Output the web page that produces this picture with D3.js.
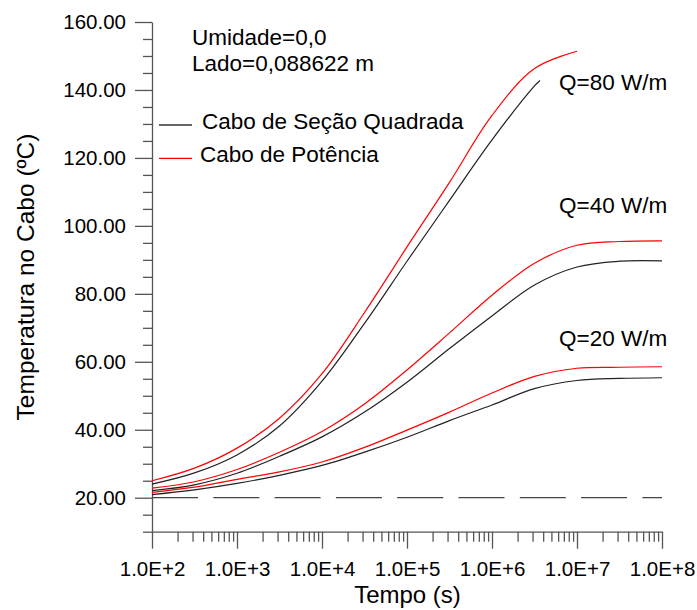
<!DOCTYPE html>
<html>
<head>
<meta charset="utf-8">
<script src="https://cdn.jsdelivr.net/npm/d3@7"></script>
<style>
  html, body { margin: 0; padding: 0; background: #fff; }
  svg { display: block; font-family: "Liberation Sans", Arial, Helvetica, sans-serif; }
</style>
</head>
<body>
<svg id="chart" width="697" height="610"></svg>
<script>
// Time instants (s), half-decade steps from 1E+2 to 1E+8
const tempo = [1e2, 316.2, 1e3, 3162, 1e4, 31623, 1e5, 316228, 1e6, 3162278, 1e7, 31622777, 1e8];
const tempoQ80Quadrada = [1e2, 316.2, 1e3, 3162, 1e4, 31623, 1e5, 316228, 1e6, 3162278, 3670000];

// Cable temperature (ºC)
const q80Potencia  = [25.0, 28.7, 34.6, 43.4, 56.5, 74.5, 93.8, 112.8, 132.5, 146.3, 151.4];
const q80Quadrada  = [24.0, 27.3, 32.6, 41.1, 54.3, 71.3, 89.6, 107.5, 125.3, 141.2, 142.8];
const q40Potencia  = [22.8, 24.7, 28.3, 33.4, 39.5, 47.6, 57.6, 68.5, 79.6, 89.0, 94.3, 95.4, 95.6];
const q40Quadrada  = [22.1, 23.8, 27.2, 32.2, 37.9, 45.2, 54.0, 63.9, 73.5, 82.6, 87.9, 89.6, 89.7];
const q20Potencia  = [21.6, 23.1, 25.4, 27.6, 30.5, 34.8, 39.9, 45.2, 50.8, 55.7, 58.1, 58.4, 58.55];
const q20Quadrada  = [20.9, 22.3, 24.2, 26.6, 29.5, 33.4, 37.8, 42.7, 47.3, 52.1, 54.5, 55.1, 55.3];

// Ambient reference temperature
const tempAmbiente = 20;

// Axis ticks
const xMajorTicks = [1e2, 1e3, 1e4, 1e5, 1e6, 1e7, 1e8];
const yMajorTicks = [20, 40, 60, 80, 100, 120, 140, 160];

// Labels
const legendLabels = ["Cabo de Seção Quadrada", "Cabo de Potência"];
const infoLines = ["Umidade=0,0", "Lado=0,088622 m"];
const curveLabels = [
  { text: "Q=80 W/m", v: 140.0 },
  { text: "Q=40 W/m", v: 103.7 },
  { text: "Q=20 W/m", v: 64.6 }
];

const svg = d3.select("#chart");
const axisColor = "#555";

const x = d3.scaleLog().domain([1e2, 1e8]).range([152, 662]);
const y = d3.scaleLinear().domain([10, 160]).range([531.7, 22]);

// Minor ticks: 2..9 within each decade
const xMinorTicks = [];
for (let e = 2; e < 8; e++) for (let m = 2; m <= 9; m++) xMinorTicks.push(m * Math.pow(10, e));
const yMinorTicks = d3.range(10, 161, 5).filter(v => v % 20 !== 0);

// X axis
const gx = svg.append("g").attr("transform", `translate(0,${y(10)})`);
gx.call(d3.axisBottom(x).tickValues(xMinorTicks).tickSize(10).tickFormat(""));
gx.call(g => g.select(".domain").remove());
const gx2 = svg.append("g").attr("transform", `translate(0,${y(10)})`);
gx2.call(d3.axisBottom(x).tickValues(xMajorTicks).tickSize(17).tickSizeOuter(0).tickPadding(13)
  .tickFormat(d => "1.0E+" + Math.round(Math.log10(d))));

// Y axis
const gy = svg.append("g").attr("transform", `translate(${x(1e2)},0)`);
gy.call(d3.axisLeft(y).tickValues(yMinorTicks).tickSize(9).tickFormat(""));
gy.call(g => g.select(".domain").remove());
const gy2 = svg.append("g").attr("transform", `translate(${x(1e2)},0)`);
gy2.call(d3.axisLeft(y).tickValues(yMajorTicks).tickSize(17).tickSizeOuter(0).tickPadding(9)
  .tickFormat(d3.format(".2f")));

svg.selectAll(".domain, .tick line").attr("stroke", axisColor).attr("stroke-width", 1.3);
gx2.selectAll("text").attr("font-size", 20.5).attr("fill", "#000").attr("font-family", "Liberation Sans, Arial, sans-serif");
gy2.selectAll("text").attr("font-size", 20.5).attr("fill", "#000").attr("font-family", "Liberation Sans, Arial, sans-serif");

// Axis titles
svg.append("text")
  .attr("x", 407.5).attr("y", 603)
  .attr("text-anchor", "middle")
  .attr("font-size", 24)
  .text("Tempo (s)");
svg.append("text")
  .attr("transform", "translate(34,277) rotate(-90)")
  .attr("text-anchor", "middle")
  .attr("font-size", 24.5)
  .text("Temperatura no Cabo (ºC)");

// Ambient temperature (dashed)
svg.append("line")
  .attr("x1", x(1e2)).attr("x2", x(1e8))
  .attr("y1", y(tempAmbiente)).attr("y2", y(tempAmbiente))
  .attr("stroke", "#444").attr("stroke-width", 1.2)
  .attr("stroke-dasharray", "46,15.3");

// Curves
const line = d3.line()
  .x(d => x(d[0]))
  .y(d => y(d[1]))
  .curve(d3.curveCatmullRom.alpha(0.5));

const series = [
  { t: tempoQ80Quadrada, v: q80Quadrada, color: "#222" },
  { t: tempo, v: q40Quadrada, color: "#222" },
  { t: tempo, v: q20Quadrada, color: "#222" },
  { t: tempo, v: q80Potencia, color: "#ff0000" },
  { t: tempo, v: q40Potencia, color: "#ff0000" },
  { t: tempo, v: q20Potencia, color: "#ff0000" }
];

series.forEach(s => {
  svg.append("path")
    .datum(s.v.map((v, i) => [s.t[i], v]))
    .attr("fill", "none")
    .attr("stroke", s.color)
    .attr("stroke-width", 1.2)
    .attr("d", line);
});

// Info text
infoLines.forEach((t, i) => {
  svg.append("text")
    .attr("x", 192).attr("y", 45 + i * 25.7)
    .attr("font-size", 22.5)
    .text(t);
});

// Legend
const legendColors = ["#333", "#ff0000"];
const legendY = [125, 158.3];
const legendTextX = [202, 200];
legendLabels.forEach((t, i) => {
  svg.append("line")
    .attr("x1", 159).attr("x2", 192)
    .attr("y1", legendY[i]).attr("y2", legendY[i])
    .attr("stroke", legendColors[i]).attr("stroke-width", 1.3);
  svg.append("text")
    .attr("x", legendTextX[i]).attr("y", legendY[i] + 3.5 + (i ? 0.5 : 0))
    .attr("font-size", 22.5)
    .text(t);
});

// Curve labels
curveLabels.forEach(c => {
  svg.append("text")
    .attr("x", 559).attr("y", y(c.v))
    .attr("font-size", 22.5)
    .text(c.text);
});
</script>
</body>
</html>
